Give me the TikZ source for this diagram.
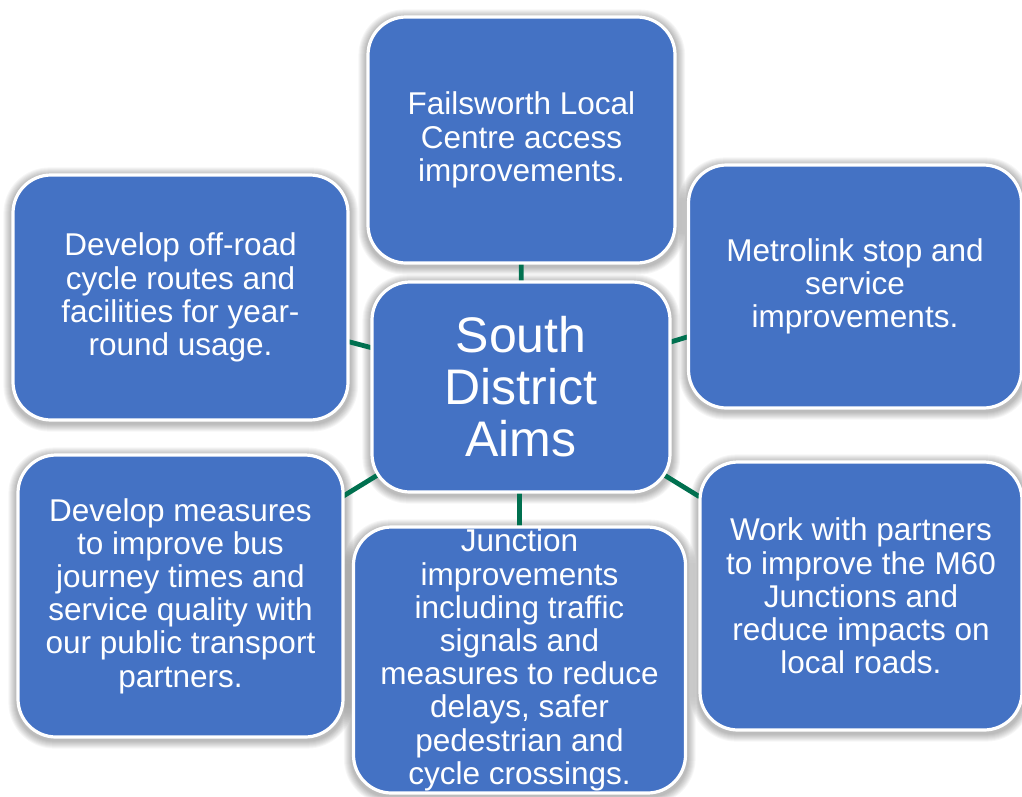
\documentclass[tikz,border=0pt]{standalone}
\usepackage{fontspec}
\setmainfont{Liberation Sans}
\usetikzlibrary{calc}
\definecolor{boxblue}{HTML}{4472C4}
\definecolor{linkgreen}{HTML}{00704F}
\pgfdeclarelayer{back}
\pgfdeclarelayer{shade}
\pgfdeclarelayer{links}
\pgfsetlayers{back,shade,links,main}
\tikzset{
  roundbox/.style={rectangle, rounded corners=38pt, fill=boxblue, draw=white,
    line width=3.2pt, text=white, align=center, inner sep=0pt},
  aimbox/.style={roundbox, font=\fontsize{31.5}{33.2}\selectfont},
  hubbox/.style={roundbox, font=\fontsize{50}{52}\selectfont},
  link/.style={draw=linkgreen, line width=4.8pt}
}
\begin{document}
\begin{tikzpicture}[x=1pt,y=-1pt]
\useasboundingbox (0,0) rectangle (1022,796);
\begin{pgfonlayer}{back}
\fill[white] (0,0) rectangle (1022,796);
\end{pgfonlayer}
\node[hubbox, minimum width=298pt, minimum height=210pt] (c) at (521,387) {South\\District\\Aims};
\node[aimbox, minimum width=307pt, minimum height=246pt] (t) at (521.5,140) {Failsworth Local\\Centre access\\improvements.};
\node[aimbox, minimum width=333pt, minimum height=243pt] (ru) at (855,286.5) {Metrolink stop and\\service\\improvements.};
\node[aimbox, minimum width=335pt, minimum height=245pt] (lu) at (180.5,297.5) {Develop off-road\\cycle routes and\\facilities for year-\\round usage.};
\node[aimbox, minimum width=325pt, minimum height=282pt] (ll) at (180.5,596) {Develop measures\\to improve bus\\journey times and\\service quality with\\our public transport\\partners.};
\node[aimbox, minimum width=322pt, minimum height=268pt] (rl) at (861,596) {Work with partners\\to improve the M60\\Junctions and\\reduce impacts on\\local roads.};
\node[aimbox, minimum width=332pt, minimum height=266pt] (b) at (519.5,660) {Junction\\improvements\\including traffic\\signals and\\measures to reduce\\delays, safer\\pedestrian and\\cycle crossings.};
\begin{pgfonlayer}{shade}
\foreach \n in {c,t,ru,lu,ll,rl,b}{
  \foreach \k in {1,2,...,8}{
    \fill[black, opacity=0.035, rounded corners=38pt+\k pt]
      ($(\n.south west)+(-\k,\k+2)$) rectangle ($(\n.north east)+(\k+0.5,-\k+2)$);
  }
}
\end{pgfonlayer}
\begin{pgfonlayer}{links}
\draw[link] (c.center) -- (t.center);
\draw[link] (c.center) -- (ru.center);
\draw[link] (c.center) -- (lu.center);
\draw[link] (c.center) -- (ll.center);
\draw[link] (c.center) -- (rl.center);
\draw[link] (c.center) -- (b.center |- c.center) -- (b.center);
\end{pgfonlayer}
\end{tikzpicture}
\end{document}
